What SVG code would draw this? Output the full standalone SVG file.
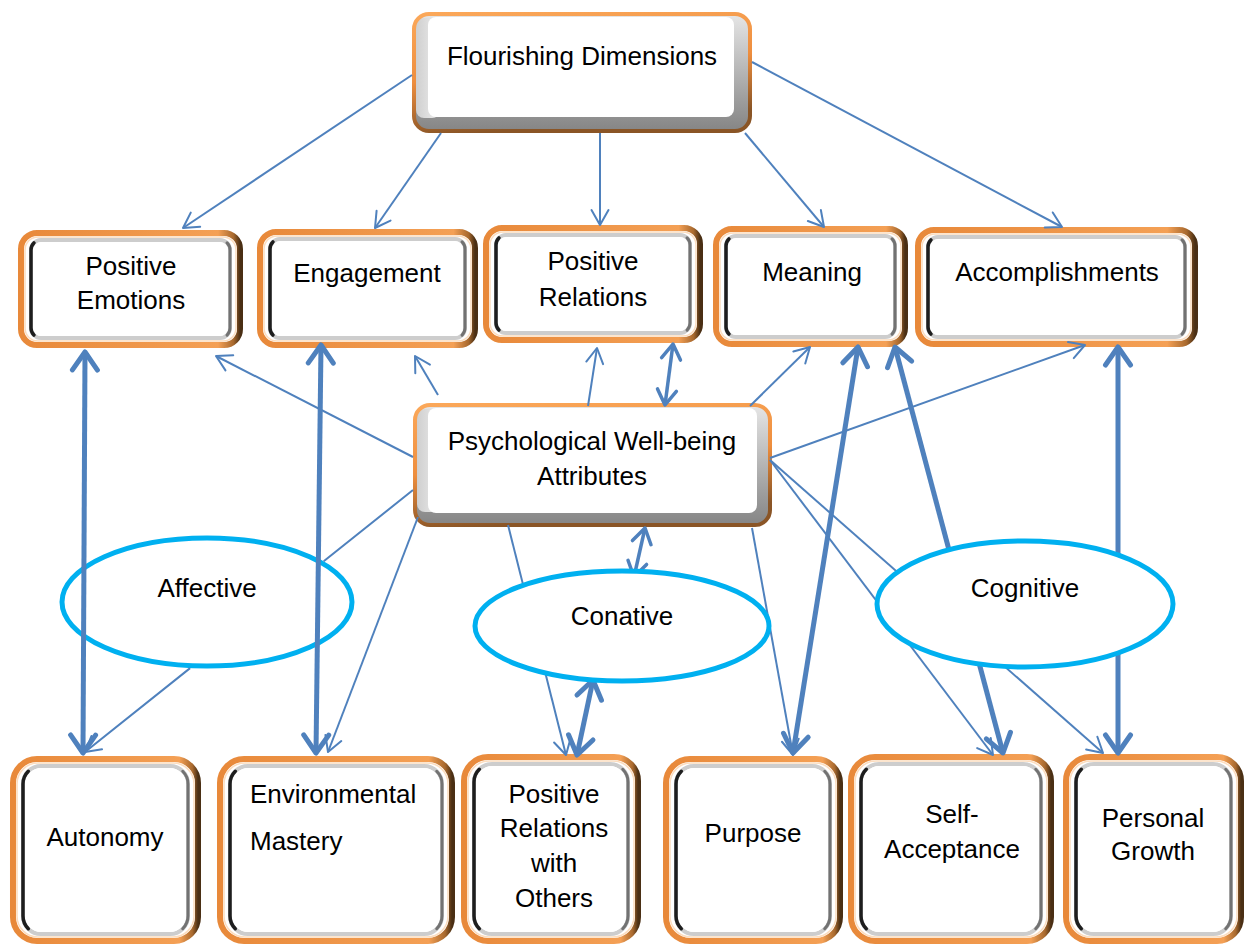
<svg xmlns="http://www.w3.org/2000/svg" width="1246" height="945" viewBox="0 0 1246 945">
  <defs>
    <style>
      .t{font-family:"Liberation Sans",Arial,Helvetica,sans-serif;font-size:26px;fill:#000;text-anchor:middle}
      .tl{text-anchor:start}
      .ring-a{fill:none;stroke:url(#ringA);stroke-width:4}
      .bevel{fill:url(#bevelA)}
      .bevel-l{fill:url(#bevelL)}
      .face{fill:#fff}
      .ring-b{fill:#fff;stroke:url(#ringB);stroke-width:6}
      .ring-hi{fill:none;stroke:#FCDDBF;stroke-width:1.5}
      .frame{fill:none;stroke:#cdcdcd;stroke-width:4}
      .frame-hi{fill:none;stroke:#fff;stroke-width:1.2}
      .fl{fill:none;stroke:#1e1e1e;stroke-width:3.5;stroke-linecap:round}
      .fr{fill:none;stroke:#727272;stroke-width:3;stroke-linecap:round}
      .oval{fill:#fff;stroke:#00B0F0;stroke-width:5}
      .c1{fill:none;stroke:#4F81BD;stroke-width:2;marker-end:url(#hThin)}
      .c2{fill:none;stroke:#4F81BD;stroke-width:3.5;marker-start:url(#hMid);marker-end:url(#hMid)}
      .c3{fill:none;stroke:#4F81BD;stroke-width:5;marker-start:url(#hThick);marker-end:url(#hThick)}
    </style>
    <linearGradient id="ringA" x1="0" y1="0" x2="0.25" y2="1">
      <stop offset="0" stop-color="#FBA85A"/>
      <stop offset="0.55" stop-color="#EE8E3E"/>
      <stop offset="1" stop-color="#8A5526"/>
    </linearGradient>
    <linearGradient id="bevelA" x1="0" y1="0" x2="0" y2="1">
      <stop offset="0" stop-color="#e6e6e6"/>
      <stop offset="0.75" stop-color="#9c9c9c"/>
      <stop offset="1" stop-color="#858585"/>
    </linearGradient>
    <linearGradient id="bevelL" x1="0" y1="0" x2="1" y2="0">
      <stop offset="0" stop-color="#cfcfcf"/>
      <stop offset="1" stop-color="#eeeeee"/>
    </linearGradient>
    <linearGradient id="ringB" x1="0" y1="0" x2="1" y2="0">
      <stop offset="0" stop-color="#E8893A"/>
      <stop offset="0.9" stop-color="#F4A055"/>
      <stop offset="0.97" stop-color="#A8692E"/>
      <stop offset="1" stop-color="#4a2f14"/>
    </linearGradient>
    <marker id="hThin" viewBox="-18 -12 22 24" refX="0" refY="0" markerWidth="22" markerHeight="24" markerUnits="userSpaceOnUse" orient="auto-start-reverse">
      <path d="M-15,-8.5 L0,0 L-15,8.5" fill="none" stroke="#4F81BD" stroke-width="2" stroke-linecap="round" stroke-linejoin="round"/>
    </marker>
    <marker id="hMid" viewBox="-20 -14 24 28" refX="0" refY="0" markerWidth="24" markerHeight="28" markerUnits="userSpaceOnUse" orient="auto-start-reverse">
      <path d="M-15,-9.5 L0,0 L-15,9.5" fill="none" stroke="#4F81BD" stroke-width="3.5" stroke-linecap="round" stroke-linejoin="round"/>
    </marker>
    <marker id="hThick" viewBox="-24 -16 28 32" refX="0" refY="0" markerWidth="28" markerHeight="32" markerUnits="userSpaceOnUse" orient="auto-start-reverse">
      <path d="M-18,-12.5 L0,0 L-18,12.5" fill="none" stroke="#4F81BD" stroke-width="5" stroke-linecap="round" stroke-linejoin="round"/>
    </marker>
  </defs>

  <rect width="1246" height="945" fill="#fff"/>

  <!-- raised header buttons -->
  <g id="flourishing">
    <rect class="bevel" x="414" y="14" width="336" height="117" rx="15"/>
    <rect class="bevel-l" x="416" y="18" width="24" height="100" rx="8"/>
    <rect class="face" x="428" y="17" width="306" height="100" rx="8"/>
    <rect class="ring-a" x="414" y="14" width="336" height="117" rx="15"/>
    <text class="t" x="582" y="65">Flourishing Dimensions</text>
  </g>

  <g id="pwb">
    <rect class="bevel" x="415" y="405" width="355" height="120" rx="15"/>
    <rect class="bevel-l" x="417" y="409" width="24" height="103" rx="8"/>
    <rect class="face" x="428" y="408" width="329" height="105" rx="8"/>
    <rect class="ring-a" x="415" y="405" width="355" height="120" rx="15"/>
    <text class="t" x="592" y="450">Psychological Well-being</text>
    <text class="t" x="592" y="485">Attributes</text>
  </g>

  <!-- PERMA dimensions -->
  <g id="positive-emotions">
    <rect class="ring-b" x="21" y="233" width="219" height="112" rx="16"/>
    <rect class="ring-hi" x="25" y="237" width="211" height="104" rx="13"/>
    <rect class="frame" x="31" y="240" width="199" height="98" rx="10"/>
    <rect class="frame-hi" x="33.5" y="242.5" width="194" height="93" rx="8"/>
    <path class="fl" d="M33.9,242.9 A10,10 0 0 0 31,250 L31,328 A10,10 0 0 0 33.9,335.1"/>
    <path class="fr" d="M227.1,242.9 A10,10 0 0 1 230,250 L230,328 A10,10 0 0 1 227.1,335.1"/>
    <text class="t" x="131" y="275">Positive</text>
    <text class="t" x="131" y="309">Emotions</text>
  </g>
  <g id="engagement">
    <rect class="ring-b" x="260" y="232" width="215" height="113" rx="16"/>
    <rect class="ring-hi" x="264" y="236" width="207" height="105" rx="13"/>
    <rect class="frame" x="270" y="239" width="195" height="99" rx="10"/>
    <rect class="frame-hi" x="272.5" y="241.5" width="190" height="94" rx="8"/>
    <path class="fl" d="M272.9,241.9 A10,10 0 0 0 270,249 L270,328 A10,10 0 0 0 272.9,335.1"/>
    <path class="fr" d="M462.1,241.9 A10,10 0 0 1 465,249 L465,328 A10,10 0 0 1 462.1,335.1"/>
    <text class="t" x="367" y="282">Engagement</text>
  </g>
  <g id="positive-relations">
    <rect class="ring-b" x="486" y="228" width="214" height="112" rx="16"/>
    <rect class="ring-hi" x="490" y="232" width="206" height="104" rx="13"/>
    <rect class="frame" x="496" y="235" width="194" height="98" rx="10"/>
    <rect class="frame-hi" x="498.5" y="237.5" width="189" height="93" rx="8"/>
    <path class="fl" d="M498.9,237.9 A10,10 0 0 0 496,245 L496,323 A10,10 0 0 0 498.9,330.1"/>
    <path class="fr" d="M687.1,237.9 A10,10 0 0 1 690,245 L690,323 A10,10 0 0 1 687.1,330.1"/>
    <text class="t" x="593" y="270">Positive</text>
    <text class="t" x="593" y="306">Relations</text>
  </g>
  <g id="meaning">
    <rect class="ring-b" x="716" y="229" width="189" height="115" rx="16"/>
    <rect class="ring-hi" x="720" y="233" width="181" height="107" rx="13"/>
    <rect class="frame" x="726" y="236" width="169" height="101" rx="10"/>
    <rect class="frame-hi" x="728.5" y="238.5" width="164" height="96" rx="8"/>
    <path class="fl" d="M728.9,238.9 A10,10 0 0 0 726,246 L726,327 A10,10 0 0 0 728.9,334.1"/>
    <path class="fr" d="M892.1,238.9 A10,10 0 0 1 895,246 L895,327 A10,10 0 0 1 892.1,334.1"/>
    <text class="t" x="812" y="281">Meaning</text>
  </g>
  <g id="accomplishments">
    <rect class="ring-b" x="918" y="230" width="277" height="114" rx="16"/>
    <rect class="ring-hi" x="922" y="234" width="269" height="106" rx="13"/>
    <rect class="frame" x="928" y="237" width="257" height="100" rx="10"/>
    <rect class="frame-hi" x="930.5" y="239.5" width="252" height="95" rx="8"/>
    <path class="fl" d="M930.9,239.9 A10,10 0 0 0 928,247 L928,327 A10,10 0 0 0 930.9,334.1"/>
    <path class="fr" d="M1182.1,239.9 A10,10 0 0 1 1185,247 L1185,327 A10,10 0 0 1 1182.1,334.1"/>
    <text class="t" x="1057" y="281">Accomplishments</text>
  </g>

  <!-- well-being attributes -->
  <g id="autonomy">
    <rect class="ring-b" x="13" y="759" width="185" height="182" rx="24"/>
    <rect class="ring-hi" x="17" y="763" width="177" height="174" rx="21"/>
    <rect class="frame" x="23" y="766" width="165" height="168" rx="18"/>
    <rect class="frame-hi" x="25.5" y="768.5" width="160" height="163" rx="16"/>
    <path class="fl" d="M28.3,771.3 A18,18 0 0 0 23,784 L23,916 A18,18 0 0 0 28.3,928.7"/>
    <path class="fr" d="M182.7,771.3 A18,18 0 0 1 188,784 L188,916 A18,18 0 0 1 182.7,928.7"/>
    <text class="t" x="105" y="846">Autonomy</text>
  </g>
  <g id="environmental-mastery">
    <rect class="ring-b" x="220" y="759" width="232" height="182" rx="24"/>
    <rect class="ring-hi" x="224" y="763" width="224" height="174" rx="21"/>
    <rect class="frame" x="230" y="766" width="212" height="168" rx="18"/>
    <rect class="frame-hi" x="232.5" y="768.5" width="207" height="163" rx="16"/>
    <path class="fl" d="M235.3,771.3 A18,18 0 0 0 230,784 L230,916 A18,18 0 0 0 235.3,928.7"/>
    <path class="fr" d="M436.7,771.3 A18,18 0 0 1 442,784 L442,916 A18,18 0 0 1 436.7,928.7"/>
    <text class="t tl" x="250" y="803">Environmental</text>
    <text class="t tl" x="250" y="850">Mastery</text>
  </g>
  <g id="positive-relations-others">
    <rect class="ring-b" x="464" y="757" width="174" height="184" rx="24"/>
    <rect class="ring-hi" x="468" y="761" width="166" height="176" rx="21"/>
    <rect class="frame" x="474" y="764" width="154" height="170" rx="18"/>
    <rect class="frame-hi" x="476.5" y="766.5" width="149" height="165" rx="16"/>
    <path class="fl" d="M479.3,769.3 A18,18 0 0 0 474,782 L474,916 A18,18 0 0 0 479.3,928.7"/>
    <path class="fr" d="M622.7,769.3 A18,18 0 0 1 628,782 L628,916 A18,18 0 0 1 622.7,928.7"/>
    <text class="t" x="554" y="803">Positive</text>
    <text class="t" x="554" y="837">Relations</text>
    <text class="t" x="554" y="872">with</text>
    <text class="t" x="554" y="907">Others</text>
  </g>
  <g id="purpose">
    <rect class="ring-b" x="666" y="759" width="174" height="182" rx="24"/>
    <rect class="ring-hi" x="670" y="763" width="166" height="174" rx="21"/>
    <rect class="frame" x="676" y="766" width="154" height="168" rx="18"/>
    <rect class="frame-hi" x="678.5" y="768.5" width="149" height="163" rx="16"/>
    <path class="fl" d="M681.3,771.3 A18,18 0 0 0 676,784 L676,916 A18,18 0 0 0 681.3,928.7"/>
    <path class="fr" d="M824.7,771.3 A18,18 0 0 1 830,784 L830,916 A18,18 0 0 1 824.7,928.7"/>
    <text class="t" x="753" y="842">Purpose</text>
  </g>
  <g id="self-acceptance">
    <rect class="ring-b" x="851" y="757" width="200" height="184" rx="24"/>
    <rect class="ring-hi" x="855" y="761" width="192" height="176" rx="21"/>
    <rect class="frame" x="861" y="764" width="180" height="170" rx="18"/>
    <rect class="frame-hi" x="863.5" y="766.5" width="175" height="165" rx="16"/>
    <path class="fl" d="M866.3,769.3 A18,18 0 0 0 861,782 L861,916 A18,18 0 0 0 866.3,928.7"/>
    <path class="fr" d="M1035.7,769.3 A18,18 0 0 1 1041,782 L1041,916 A18,18 0 0 1 1035.7,928.7"/>
    <text class="t" x="952" y="823">Self-</text>
    <text class="t" x="952" y="858">Acceptance</text>
  </g>
  <g id="personal-growth">
    <rect class="ring-b" x="1066" y="757" width="175" height="184" rx="24"/>
    <rect class="ring-hi" x="1070" y="761" width="167" height="176" rx="21"/>
    <rect class="frame" x="1076" y="764" width="155" height="170" rx="18"/>
    <rect class="frame-hi" x="1078.5" y="766.5" width="150" height="165" rx="16"/>
    <path class="fl" d="M1081.3,769.3 A18,18 0 0 0 1076,782 L1076,916 A18,18 0 0 0 1081.3,928.7"/>
    <path class="fr" d="M1225.7,769.3 A18,18 0 0 1 1231,782 L1231,916 A18,18 0 0 1 1225.7,928.7"/>
    <text class="t" x="1153" y="827">Personal</text>
    <text class="t" x="1153" y="860">Growth</text>
  </g>

  <g id="affective">
    <ellipse class="oval" cx="207" cy="602" rx="145" ry="64"/>
    <text class="t" x="207" y="597">Affective</text>
  </g>

  <g id="connectors">
    <!-- Flourishing Dimensions to each PERMA element -->
    <path class="c1" d="M412,75 L183,228"/>
    <path class="c1" d="M441,133 L375,228"/>
    <path class="c1" d="M600,133 L600,225"/>
    <path class="c1" d="M745,133 L824,227"/>
    <path class="c1" d="M752,62 L1062,227"/>
    <!-- attributes up to PERMA -->
    <path class="c1" d="M413,457 L216,356"/>
    <path class="c1" d="M438,395 L415,356"/>
    <path class="c1" d="M588,406 L597,348"/>
    <path class="c1" d="M750,406 L810,347"/>
    <path class="c1" d="M770,458 L1085,345"/>
    <path class="c2" d="M665,405 L673,344"/>
    <!-- attributes down to the six dimensions -->
    <path class="c1" d="M413,490 L323.7,561.3 M190.1,668.1 L85,752"/>
    <path class="c1" d="M418,517 L328,752"/>
    <path class="c1" d="M508,525 L566,755"/>
    <path class="c1" d="M752,528 L793,755"/>
    <path class="c1" d="M770,460 L993,755"/>
    <path class="c1" d="M770,460 L1103,753"/>
    <path class="c2" d="M645,528 L634,577"/>
    <!-- direct two-way links -->
    <path class="c3" d="M85,352 L83,753"/>
    <path class="c3" d="M321,345 L316,753"/>
    <path class="c3" d="M858,347 L793,753"/>
    <path class="c3" d="M895,347 L1003,753"/>
    <path class="c3" d="M1118,347 L1118,753"/>
    <path class="c3" d="M593,680 L577,755"/>
  </g>

  <g id="conative">
    <ellipse class="oval" cx="622" cy="626" rx="147" ry="55"/>
    <text class="t" x="622" y="625">Conative</text>
  </g>
  <g id="cognitive">
    <ellipse class="oval" cx="1025" cy="604" rx="148" ry="63"/>
    <text class="t" x="1025" y="597">Cognitive</text>
  </g>
</svg>
